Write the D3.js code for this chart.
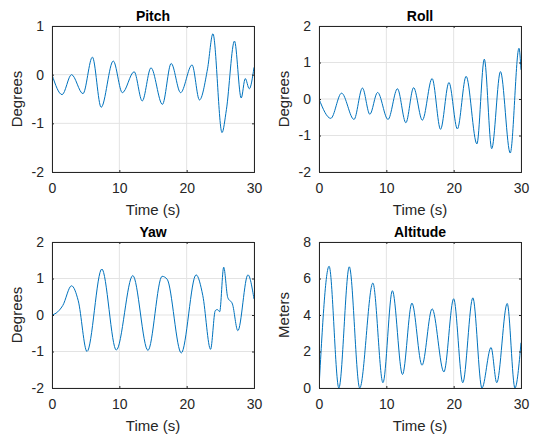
<!DOCTYPE html>
<html>
<head>
<meta charset="utf-8">
<script src="https://cdn.jsdelivr.net/npm/d3@7"></script>
<style>
  body { margin: 0; background: #fff; }
  svg { display: block; font-family: "Liberation Sans", Arial, sans-serif; }
</style>
</head>
<body>
<svg width="540" height="441"></svg>
<script>
// values (key points, mostly extremes)
const pitchT = [0, 1.5, 2.9, 4.6, 6.0, 7.3, 9.1, 10.45, 12.2, 13.4, 14.7, 16.4, 17.7, 19.1, 20.8, 21.9, 23.1, 23.9, 25.25, 25.9, 27.1, 28.1, 28.7, 29.3, 30]
const pitchV = [0, -0.41, 0.0, -0.39, 0.36, -0.67, 0.28, -0.37, 0.06, -0.54, 0.14, -0.61, 0.23, -0.37, 0.2, -0.52, 0.12, 0.84, -1.19, -0.72, 0.69, -0.48, -0.08, -0.29, 0.15]

const rollT = [0, 1.75, 3.35, 5.2, 6.45, 7.55, 8.7, 10.25, 11.65, 12.9, 14.05, 15.35, 16.8, 18.05, 19.3, 20.55, 21.85, 23.45, 24.55, 25.65, 26.95, 28.4, 29.7, 30]
const rollV = [0, -0.53, 0.16, -0.56, 0.3, -0.42, 0.18, -0.56, 0.28, -0.65, 0.31, -0.58, 0.56, -0.83, 0.45, -0.82, 0.62, -1.23, 1.09, -1.36, 0.75, -1.48, 1.39, 0.8]

const yawT = [0, 0.6, 1.6, 2.9, 3.9, 5.2, 7.4, 9.55, 12.0, 14.25, 16.35, 17.1, 19.2, 21.4, 22.4, 23.55, 24.25, 24.55, 24.9, 25.5, 26.1, 26.8, 27.6, 29.1, 30]
const yawV = [0, 0.05, 0.26, 0.8, 0.39, -1.0, 1.26, -0.96, 1.08, -0.97, 1.06, 0.98, -1.04, 1.1, 0.53, -0.94, 0.12, 0.15, 0.09, 1.31, 0.48, 0.3, -0.43, 1.1, 0.44]

const altT = [0, 1.5, 2.95, 4.5, 6.05, 8.0, 9.5, 10.9, 12.4, 13.8, 15.3, 16.8, 18.55, 20.0, 21.35, 22.85, 24.2, 25.55, 26.4, 27.95, 29.1, 30]
const altV = [0, 6.67, 0, 6.64, 0, 5.75, 0.29, 5.33, 0.74, 4.65, 1.25, 4.34, 0.88, 4.89, 0.29, 4.94, 0, 2.22, 0.29, 4.63, 0, 2.48]

const xTicks = [0, 10, 20, 30]
const degTicks = [-2, -1, 0, 1]
const degTicks2 = [-2, -1, 0, 1, 2]
const altTicks = [0, 2, 4, 6, 8]

const panels = [
  {title: "Pitch", ylab: "Degrees", t: pitchT, v: pitchV, dom: [-2, 1], ticks: degTicks, col: 0, row: 0},
  {title: "Roll", ylab: "Degrees", t: rollT, v: rollV, dom: [-2, 2], ticks: degTicks2, col: 1, row: 0},
  {title: "Yaw", ylab: "Degrees", t: yawT, v: yawV, dom: [-2, 2], ticks: degTicks2, col: 0, row: 1},
  {title: "Altitude", ylab: "Meters", t: altT, v: altV, dom: [0, 8], ticks: altTicks, col: 1, row: 1}
]

const svg = d3.select("svg")
const lefts = [52, 319], tops = [26, 242],
    w = 202, h = 146,
    axisCol = "#262626", gridCol = "#e3e3e3", lineCol = "#0072BD"

// plain hyphen minus like the original
const fmt = d => String(d)

panels.forEach(function (p, i) {
  const g = svg.append("g")
    .attr("transform", `translate(${lefts[p.col]},${tops[p.row]})`)

  const x = d3.scaleLinear().domain([0, 30]).range([0, w])
  const y = d3.scaleLinear().domain(p.dom).range([h, 0])

  // grid
  g.selectAll(".gx").data(xTicks).enter().append("line")
    .attr("x1", d => x(d)).attr("x2", d => x(d))
    .attr("y1", 0).attr("y2", h)
    .attr("stroke", gridCol).attr("stroke-width", 1)
  g.selectAll(".gy").data(p.ticks).enter().append("line")
    .attr("y1", d => y(d)).attr("y2", d => y(d))
    .attr("x1", 0).attr("x2", w)
    .attr("stroke", gridCol).attr("stroke-width", 1)

  // data line
  g.append("clipPath").attr("id", "clip" + i)
    .append("rect").attr("width", w).attr("height", h)
  const line = d3.line()
    .curve(d3.curveMonotoneX)
    .x((d, j) => x(p.t[j]))
    .y(d => y(d))
  g.append("path")
    .attr("d", line(p.v))
    .attr("clip-path", `url(#clip${i})`)
    .attr("fill", "none")
    .attr("stroke", lineCol)
    .attr("stroke-width", 1)

  // axes (ticks point inward, box on)
  const bottom = g.append("g").attr("transform", `translate(0,${h})`)
    .call(d3.axisBottom(x).tickValues(xTicks).tickSize(-2).tickPadding(11).tickFormat(fmt))
  const left = g.append("g")
    .call(d3.axisLeft(y).tickValues(p.ticks).tickSize(-2).tickPadding(8).tickFormat(fmt))
  const top = g.append("g")
    .call(d3.axisTop(x).tickValues(xTicks).tickSize(-2).tickFormat(""))
  const right = g.append("g").attr("transform", `translate(${w},0)`)
    .call(d3.axisRight(y).tickValues(p.ticks).tickSize(-2).tickFormat(""))
  ;[bottom, left, top, right].forEach(a => {
    a.select(".domain").attr("stroke", axisCol).attr("stroke-width", 1)
    a.selectAll(".tick line").attr("stroke", axisCol)
    a.selectAll("text").attr("fill", axisCol)
      .style("font-size", "14px").style("font-family", "Liberation Sans, Arial, sans-serif")
  })

  // labels
  g.append("text")
    .attr("x", w / 2).attr("y", -5)
    .attr("text-anchor", "middle")
    .style("font-size", "14px").style("font-weight", "bold")
    .attr("fill", "#000")
    .text(p.title)
  g.append("text")
    .attr("x", w / 2).attr("y", h + 43)
    .attr("text-anchor", "middle")
    .style("font-size", "15px")
    .attr("fill", axisCol)
    .text("Time (s)")
  g.append("text")
    .attr("transform", `translate(-30,${h / 2}) rotate(-90)`)
    .attr("text-anchor", "middle")
    .style("font-size", "15px")
    .attr("fill", axisCol)
    .text(p.ylab)
})
</script>
</body>
</html>
